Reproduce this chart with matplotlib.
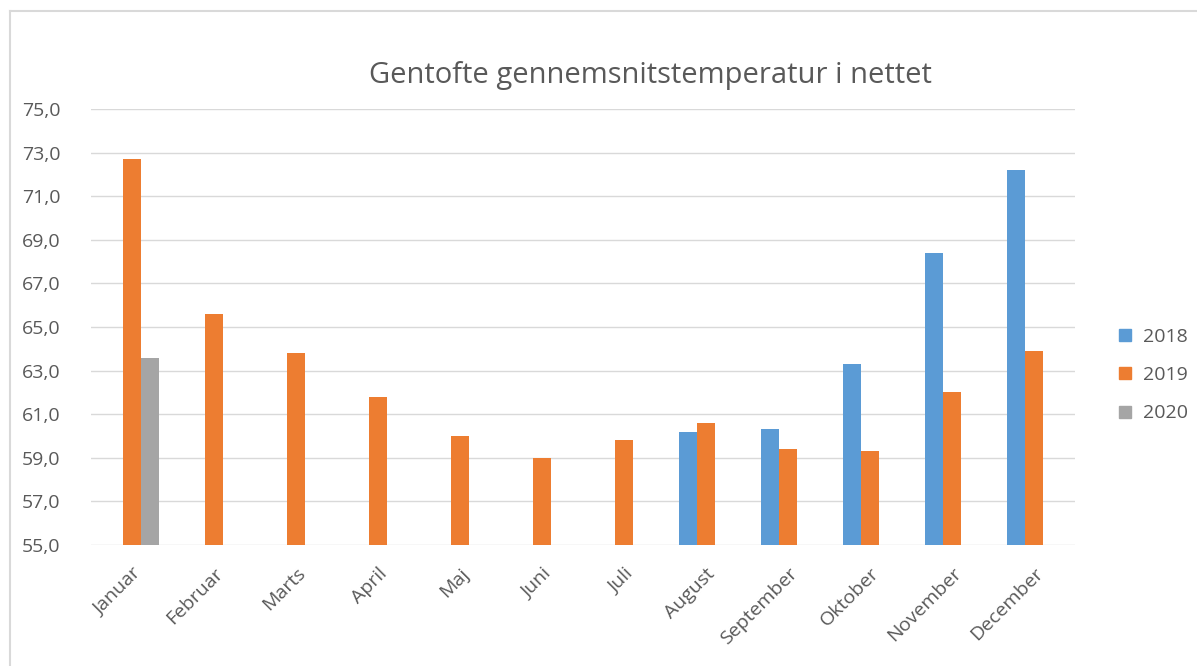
import numpy as np
import matplotlib.pyplot as plt
from matplotlib.lines import Line2D

months = ["Januar", "Februar", "Marts", "April", "Maj", "Juni", "Juli",
          "August", "September", "Oktober", "November", "December"]
temp_2018 = [np.nan, np.nan, np.nan, np.nan, np.nan, np.nan, np.nan,
             60.2, 60.3, 63.3, 68.4, 72.2]
temp_2019 = [72.7, 65.6, 63.8, 61.8, 60.0, 59.0, 59.8,
             60.6, 59.4, 59.3, 62.0, 63.9]
temp_2020 = [63.6, np.nan, np.nan, np.nan, np.nan, np.nan, np.nan,
             np.nan, np.nan, np.nan, np.nan, np.nan]
years = ["2018", "2019", "2020"]
colors = ["#5B9BD5", "#ED7D31", "#A5A5A5"]

W, H = 1197, 666
fig = plt.figure(figsize=(W / 100, H / 100), dpi=100)
ax = fig.add_axes([91 / W, 1 - 545 / H, (1075 - 91) / W, (545 - 109) / H])

x = np.arange(len(months))
width = 0.22
for i, (vals, col, lab) in enumerate(zip([temp_2018, temp_2019, temp_2020], colors, years)):
    ax.bar(x + (i - 1) * width, np.array(vals) - 55, bottom=55, width=width,
           color=col, label=lab, zorder=3)

ax.set_xlim(-0.5, len(months) - 0.5)
ax.set_ylim(55, 75)
ax.set_yticks(np.arange(55, 76, 2))
ax.set_yticklabels([f"{v:.1f}".replace(".", ",") for v in np.arange(55, 76, 2)])
ax.grid(axis="y", color="#d9d9d9", linewidth=1, zorder=0)
for s in ax.spines.values():
    s.set_visible(False)
ax.tick_params(axis="both", length=0, colors="#595959", labelsize=14)
ax.tick_params(axis="y", pad=22)
ax.set_xticks(x)
ax.set_xticklabels(months, rotation=45, ha="right", rotation_mode="anchor")
ax.tick_params(axis="x", pad=14)
for t in ax.get_xticklabels() + ax.get_yticklabels():
    t.set_fontfamily("Open Sans")

fig.text(650 / W, 1 - 75 / H, "Gentofte gennemsnitstemperatur i nettet",
         ha="center", va="center", fontsize=21, color="#595959", family="Open Sans")

handles = [Line2D([], [], marker="s", linestyle="none", markersize=8,
                  markerfacecolor=c, markeredgecolor=c) for c in colors]
fig.legend(handles, years, loc="center left", bbox_to_anchor=(1100 / W, 1 - 375 / H),
           frameon=False, prop={"family": "Open Sans", "size": 14},
           labelcolor="#595959", handlelength=0.8, handletextpad=0.5, labelspacing=1.05)

# chart frame (top and left edges only)
fig.add_artist(Line2D([10 / W, 1], [1 - 11 / H, 1 - 11 / H], color="#d9d9d9", lw=1.5))
fig.add_artist(Line2D([10 / W, 10 / W], [0, 1 - 11 / H], color="#d9d9d9", lw=1.5))

fig.savefig("out.png", dpi=100)
